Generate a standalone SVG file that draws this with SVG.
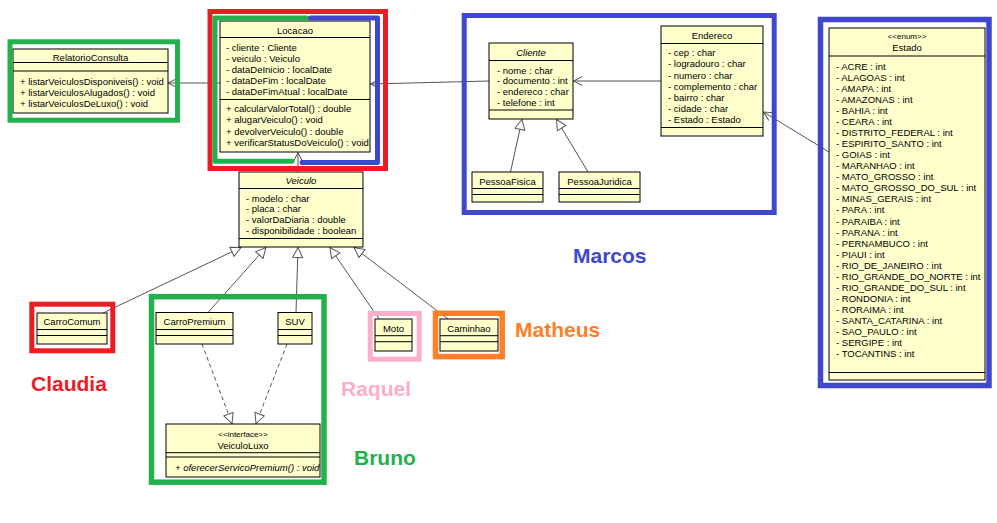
<svg xmlns="http://www.w3.org/2000/svg" width="997" height="523" viewBox="0 0 997 523">
<style>
.box{fill:#FFFFCC;stroke:#000;stroke-width:1}
.sep{stroke:#000;stroke-width:1}
.t{font-family:"Liberation Sans",Arial,sans-serif;font-size:9.5px;fill:#000}
.tt{font-family:"Liberation Sans",Arial,sans-serif;font-size:9.5px;fill:#000;text-anchor:middle}
.st{font-family:"Liberation Sans",Arial,sans-serif;font-size:8px;fill:#000;text-anchor:middle}
.it{font-style:italic}
.c{stroke:#555;stroke-width:1;fill:none}
.d{stroke-dasharray:4,3}
.fr{fill:none}
.lbl{font-family:"Liberation Sans",Arial,sans-serif;font-size:21px;font-weight:bold}
</style>
<defs>
<marker id="open" markerUnits="userSpaceOnUse" markerWidth="12" markerHeight="12" refX="9" refY="4.5" orient="auto" overflow="visible">
<path d="M0,0 L9,4.5 L0,9" fill="none" stroke="#555" stroke-width="1"/>
</marker>
<marker id="tri" markerUnits="userSpaceOnUse" markerWidth="12" markerHeight="12" refX="10" refY="5" orient="auto" overflow="visible">
<path d="M0,0 L10,5 L0,10 z" fill="#fff" stroke="#555" stroke-width="1"/>
</marker>
</defs>
<rect width="997" height="523" fill="#fff"/>

<g id="connectors">
<line class="c" x1="220" y1="83" x2="168" y2="83" marker-end="url(#open)"/>
<line class="c" x1="489" y1="81" x2="370.5" y2="84" marker-end="url(#open)"/>
<line class="c" x1="298" y1="172" x2="298" y2="152.5" marker-end="url(#open)"/>
<line class="c" x1="661" y1="81" x2="573.5" y2="81" marker-end="url(#open)"/>
<line class="c" x1="829" y1="152" x2="763.5" y2="112" marker-end="url(#open)"/>
<line class="c" x1="510.5" y1="172" x2="522" y2="119.5" marker-end="url(#tri)"/>
<line class="c" x1="588" y1="172" x2="556.5" y2="119.5" marker-end="url(#tri)"/>
<line class="c" x1="103" y1="313" x2="241" y2="247.5" marker-end="url(#tri)"/>
<line class="c" x1="208" y1="312.5" x2="266" y2="247.5" marker-end="url(#tri)"/>
<line class="c" x1="296" y1="312.5" x2="298" y2="247.5" marker-end="url(#tri)"/>
<line class="c" x1="379" y1="319" x2="330" y2="247.5" marker-end="url(#tri)"/>
<line class="c" x1="448" y1="319" x2="354" y2="247.5" marker-end="url(#tri)"/>
<line class="c d" x1="202" y1="344" x2="232" y2="423.5" marker-end="url(#tri)"/>
<line class="c d" x1="287" y1="344" x2="256" y2="423.5" marker-end="url(#tri)"/>
</g>

<g id="RelatorioConsulta">
<rect class="box" x="13" y="49" width="155" height="64"/>
<text class="tt" x="90.5" y="61">RelatorioConsulta</text>
<line class="sep" x1="13" y1="62.5" x2="168" y2="62.5"/>
<line class="sep" x1="13" y1="71" x2="168" y2="71"/>
<text class="t" x="20" y="85">+ listarVeiculosDisponiveis() : void</text>
<text class="t" x="20" y="96">+ listarVeiculosAlugados() : void</text>
<text class="t" x="20" y="107">+ listarVeiculosDeLuxo() : void</text>
</g>

<g id="Locacao">
<rect class="box" x="220" y="21" width="150" height="131"/>
<text class="tt" x="295" y="33.5">Locacao</text>
<line class="sep" x1="220" y1="37.5" x2="370" y2="37.5"/>
<text class="t" x="226" y="50.5">- cliente : Cliente</text>
<text class="t" x="226" y="61.7">- veiculo : Veiculo</text>
<text class="t" x="226" y="72.9">- dataDeInicio : localDate</text>
<text class="t" x="226" y="84.1">- dataDeFim : localDate</text>
<text class="t" x="226" y="95.3">- dataDeFimAtual : localDate</text>
<line class="sep" x1="220" y1="99.5" x2="370" y2="99.5"/>
<text class="t" x="226" y="112">+ calcularValorTotal() : double</text>
<text class="t" x="226" y="123.2">+ alugarVeiculo() : void</text>
<text class="t" x="226" y="134.6">+ devolverVeiculo() : double</text>
<text class="t" x="226" y="145.8">+ verificarStatusDoVeiculo() : void</text>
</g>

<g id="Veiculo">
<rect class="box" x="239" y="172" width="124" height="75"/>
<text class="tt it" x="301" y="184">Veiculo</text>
<line class="sep" x1="239" y1="188.5" x2="363" y2="188.5"/>
<text class="t" x="246" y="201.5">- modelo : char</text>
<text class="t" x="246" y="212">- placa : char</text>
<text class="t" x="246" y="222.5">- valorDaDiaria : double</text>
<text class="t" x="246" y="233.5">- disponibilidade : boolean</text>
<line class="sep" x1="239" y1="238.5" x2="363" y2="238.5"/>
</g>

<g id="Cliente">
<rect class="box" x="489" y="43" width="84" height="76"/>
<text class="tt it" x="531" y="56">Cliente</text>
<line class="sep" x1="489" y1="60.5" x2="573" y2="60.5"/>
<text class="t" x="497" y="73.5">- nome : char</text>
<text class="t" x="497" y="84.2">- documento : int</text>
<text class="t" x="497" y="95">- endereco : char</text>
<text class="t" x="497" y="105.7">- telefone : int</text>
<line class="sep" x1="489" y1="110" x2="573" y2="110"/>
</g>

<g id="Endereco">
<rect class="box" x="661" y="26" width="102" height="110"/>
<text class="tt" x="712" y="39">Endereco</text>
<line class="sep" x1="661" y1="43.5" x2="763" y2="43.5"/>
<text class="t" x="668" y="56">- cep : char</text>
<text class="t" x="668" y="67.3">- logradouro : char</text>
<text class="t" x="668" y="78.6">- numero : char</text>
<text class="t" x="668" y="89.7">- complemento : char</text>
<text class="t" x="668" y="100.8">- bairro : char</text>
<text class="t" x="668" y="111.8">- cidade : char</text>
<text class="t" x="668" y="122.8">- Estado : Estado</text>
<line class="sep" x1="661" y1="127.5" x2="763" y2="127.5"/>
</g>

<g id="PessoaFisica">
<rect class="box" x="472" y="172" width="71" height="30"/>
<text class="tt" x="507.5" y="184.5">PessoaFisica</text>
<line class="sep" x1="472" y1="188.5" x2="543" y2="188.5"/>
<line class="sep" x1="472" y1="194.5" x2="543" y2="194.5"/>
</g>

<g id="PessoaJuridica">
<rect class="box" x="559" y="172" width="81" height="30"/>
<text class="tt" x="599.5" y="184.5">PessoaJuridica</text>
<line class="sep" x1="559" y1="188.5" x2="640" y2="188.5"/>
<line class="sep" x1="559" y1="194.5" x2="640" y2="194.5"/>
</g>

<g id="Estado">
<rect class="box" x="829" y="28" width="156" height="352"/>
<text class="st" x="907" y="39">&lt;&lt;enum&gt;&gt;</text>
<text class="tt" x="907" y="51">Estado</text>
<line class="sep" x1="829" y1="56" x2="985" y2="56"/>
<text class="t" x="836" y="69.5">- ACRE : int</text>
<text class="t" x="836" y="80.6">- ALAGOAS : int</text>
<text class="t" x="836" y="91.6">- AMAPA : int</text>
<text class="t" x="836" y="102.7">- AMAZONAS : int</text>
<text class="t" x="836" y="113.8">- BAHIA : int</text>
<text class="t" x="836" y="124.9">- CEARA : int</text>
<text class="t" x="836" y="135.9">- DISTRITO_FEDERAL : int</text>
<text class="t" x="836" y="147">- ESPIRITO_SANTO : int</text>
<text class="t" x="836" y="158.1">- GOIAS : int</text>
<text class="t" x="836" y="169.1">- MARANHAO : int</text>
<text class="t" x="836" y="180.2">- MATO_GROSSO : int</text>
<text class="t" x="836" y="191.3">- MATO_GROSSO_DO_SUL : int</text>
<text class="t" x="836" y="202.3">- MINAS_GERAIS : int</text>
<text class="t" x="836" y="213.4">- PARA : int</text>
<text class="t" x="836" y="224.5">- PARAIBA : int</text>
<text class="t" x="836" y="235.6">- PARANA : int</text>
<text class="t" x="836" y="246.6">- PERNAMBUCO : int</text>
<text class="t" x="836" y="257.7">- PIAUI : int</text>
<text class="t" x="836" y="268.8">- RIO_DE_JANEIRO : int</text>
<text class="t" x="836" y="279.8">- RIO_GRANDE_DO_NORTE : int</text>
<text class="t" x="836" y="290.9">- RIO_GRANDE_DO_SUL : int</text>
<text class="t" x="836" y="302">- RONDONIA : int</text>
<text class="t" x="836" y="313">- RORAIMA : int</text>
<text class="t" x="836" y="324.1">- SANTA_CATARINA : int</text>
<text class="t" x="836" y="335.2">- SAO_PAULO : int</text>
<text class="t" x="836" y="346.3">- SERGIPE : int</text>
<text class="t" x="836" y="357.3">- TOCANTINS : int</text>
<line class="sep" x1="829" y1="372.5" x2="985" y2="372.5"/>
</g>

<g id="CarroComum">
<rect class="box" x="37" y="313" width="70" height="31"/>
<text class="tt" x="72" y="325">CarroComum</text>
<line class="sep" x1="37" y1="329.5" x2="107" y2="329.5"/>
<line class="sep" x1="37" y1="335.5" x2="107" y2="335.5"/>
</g>

<g id="CarroPremium">
<rect class="box" x="156" y="312.5" width="77" height="31.5"/>
<text class="tt" x="194.5" y="325">CarroPremium</text>
<line class="sep" x1="156" y1="329.5" x2="233" y2="329.5"/>
<line class="sep" x1="156" y1="335.5" x2="233" y2="335.5"/>
</g>

<g id="SUV">
<rect class="box" x="278" y="312.5" width="34" height="31.5"/>
<text class="tt" x="295" y="325">SUV</text>
<line class="sep" x1="278" y1="329.5" x2="312" y2="329.5"/>
<line class="sep" x1="278" y1="335.5" x2="312" y2="335.5"/>
</g>

<g id="Moto">
<rect class="box" x="375" y="319" width="37" height="32"/>
<text class="tt" x="393.5" y="332">Moto</text>
<line class="sep" x1="375" y1="335.7" x2="412" y2="335.7"/>
<line class="sep" x1="375" y1="341.7" x2="412" y2="341.7"/>
</g>

<g id="Caminhao">
<rect class="box" x="440" y="319" width="58" height="32"/>
<text class="tt" x="469" y="332">Caminhao</text>
<line class="sep" x1="440" y1="335.7" x2="498" y2="335.7"/>
<line class="sep" x1="440" y1="341.7" x2="498" y2="341.7"/>
</g>

<g id="VeiculoLuxo">
<rect class="box" x="166" y="424" width="154" height="53"/>
<text class="st" x="243" y="437">&lt;&lt;interface&gt;&gt;</text>
<text class="tt" x="243" y="448.5">VeiculoLuxo</text>
<line class="sep" x1="166" y1="452.7" x2="320" y2="452.7"/>
<line class="sep" x1="166" y1="457" x2="320" y2="457"/>
<text class="t it" x="175" y="470.5">+ oferecerServicoPremium() : void</text>
</g>

<g id="frames">
<rect class="fr" x="10" y="41.8" width="167.5" height="78.4" stroke="#22B14C" stroke-width="5"/>
<rect class="fr" x="210" y="11.5" width="175.5" height="157" stroke="#ED1C24" stroke-width="5"/>
<path class="fr" d="M292,161.3 L215,161.3 L215,18 L306.5,18" stroke="#22B14C" stroke-width="5" stroke-linecap="round" stroke-linejoin="round"/>
<path class="fr" d="M310.5,18 L377.5,18 L377.5,162.5 L302,162.5" stroke="#3F48CC" stroke-width="5" stroke-linecap="round" stroke-linejoin="round"/>
<rect class="fr" x="464.2" y="15.5" width="310" height="197" stroke="#3F48CC" stroke-width="5"/>
<rect class="fr" x="820.5" y="19.5" width="168.5" height="366" stroke="#3F48CC" stroke-width="5.5"/>
<rect class="fr" x="31.8" y="304.2" width="81" height="46.6" stroke="#ED1C24" stroke-width="5"/>
<rect class="fr" x="151.5" y="296.7" width="172.5" height="185.5" stroke="#22B14C" stroke-width="5.5"/>
<rect class="fr" x="370.2" y="313.5" width="49" height="45.7" stroke="#FFAEC9" stroke-width="5"/>
<rect class="fr" x="435.5" y="313.3" width="66.7" height="43.3" stroke="#FF7F27" stroke-width="5.5"/>
</g>

<g id="labels">
<text class="lbl" x="573" y="263" fill="#3F48CC">Marcos</text>
<text class="lbl" x="515" y="337" fill="#FF7F27">Matheus</text>
<text class="lbl" x="341" y="395.5" fill="#FFAEC9">Raquel</text>
<text class="lbl" x="31" y="391" fill="#ED1C24">Claudia</text>
<text class="lbl" x="354" y="465" fill="#22B14C">Bruno</text>
</g>
</svg>
